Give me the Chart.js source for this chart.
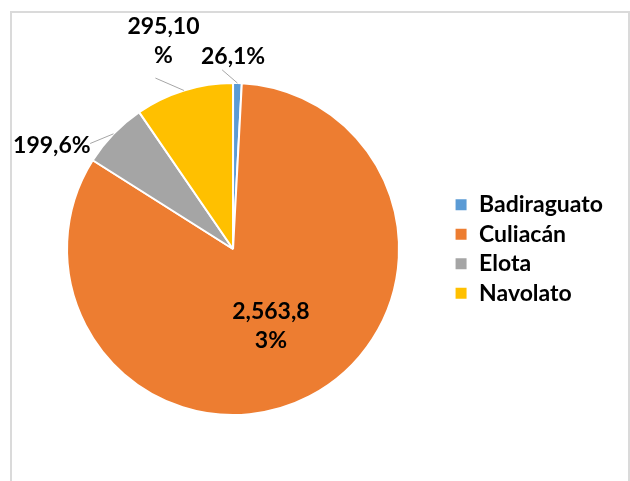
<!DOCTYPE html>
<html lang="es">
<head>
  <meta charset="UTF-8" />
  <script src="https://cdn.jsdelivr.net/npm/chart.js"></script>
  <title>Municipios</title>
  <style>
    body {
      margin: 0;
      background: #fff;
    }
    #marco {
      position: absolute;
      left: 10px;
      top: 11px;
      width: 616px;
      height: 480px;
      border: 2px solid #dadada;
      border-bottom: none;
    }
    #grafica {
      position: absolute;
      left: 0;
      top: 0;
    }
  </style>
</head>
<body>
  <div id="marco"></div>
  <canvas id="grafica" width="630" height="481"></canvas>

  <script>
    const municipios = ['Badiraguato', 'Culiacán', 'Elota', 'Navolato'];
    const valores = [26, 2563, 199, 295];
    const colores = ['#5B9BD5', '#ED7D31', '#A5A5A5', '#FFC000'];

    const fuente = "'Lato', 'Open Sans', sans-serif";

    // corta el texto letra por letra cuando pasa del ancho maximo
    function partir(ctx, texto, anchoMax) {
      const lineas = [];
      let actual = '';
      for (const c of texto) {
        if (actual && ctx.measureText(actual + c).width > anchoMax) {
          lineas.push(actual);
          actual = c;
        } else {
          actual += c;
        }
      }
      if (actual) lineas.push(actual);
      return lineas;
    }

    // etiquetas "valor,porcentaje" con linea guia para las rebanadas chicas
    const etiquetas = {
      id: 'etiquetas',
      afterDatasetsDraw(chart, args, opts) {
        const ctx = chart.ctx;
        const meta = chart.getDatasetMeta(0);
        const total = valores.reduce((a, b) => a + b, 0);
        ctx.save();
        ctx.font = opts.font;
        ctx.textAlign = 'center';
        ctx.textBaseline = 'middle';
        meta.data.forEach((arc, i) => {
          const p = arc.getProps(['x', 'y', 'startAngle', 'endAngle', 'outerRadius'], true);
          const medio = (p.startAngle + p.endAngle) / 2;
          const pos = opts.posiciones[i];
          const punto = (r, da) => {
            const a = medio + da * Math.PI / 180;
            return [p.x + Math.cos(a) * p.outerRadius * r, p.y + Math.sin(a) * p.outerRadius * r];
          };
          if (pos.guia) {
            const [x0, y0] = punto(1, 0);
            const [x1, y1] = punto(pos.guia.r, pos.guia.da);
            ctx.strokeStyle = opts.colorGuia;
            ctx.lineWidth = 1;
            ctx.beginPath();
            ctx.moveTo(x0, y0);
            ctx.lineTo(x1, y1);
            ctx.stroke();
          }
          const pct = Math.round(valores[i] / total * 100);
          const texto = valores[i].toLocaleString('en-US') + ',' + pct + '%';
          const lineas = partir(ctx, texto, opts.anchoMax);
          const [tx, ty] = punto(pos.r, pos.da);
          ctx.fillStyle = opts.color;
          lineas.forEach((l, k) => {
            ctx.fillText(l, tx, ty + (k - (lineas.length - 1) / 2) * opts.interlineado);
          });
        });
        ctx.restore();
      }
    };

    new Chart(document.getElementById('grafica'), {
      type: 'pie',
      data: {
        labels: municipios,
        datasets: [{
          data: valores,
          backgroundColor: colores,
          borderColor: '#fff',
          borderWidth: 2,
          radius: 166
        }]
      },
      options: {
        responsive: false,
        animation: false,
        layout: {
          padding: { left: 18, right: 17, top: 30, bottom: 13 }
        },
        plugins: {
          tooltip: { enabled: false },
          legend: {
            position: 'right',
            labels: {
              boxWidth: 13,
              boxHeight: 13,
              padding: 6.5,
              color: '#000',
              font: { family: fuente, size: 23, weight: 'bold' }
            }
          },
          etiquetas: {
            font: "bold 23px " + fuente,
            color: '#000',
            colorGuia: '#a6a6a6',
            anchoMax: 84,
            interlineado: 29,
            posiciones: [
              { r: 1.161, da: -1.5, guia: { r: 1.081, da: -5 } },
              { r: 0.52, da: 1.3 },
              { r: 1.258, da: -14.1, guia: { r: 1.07, da: -7.5 } },
              { r: 1.319, da: -1.3, guia: { r: 1.131, da: -7.2 } }
            ]
          }
        }
      },
      plugins: [etiquetas]
    });
  </script>
</body>
</html>
